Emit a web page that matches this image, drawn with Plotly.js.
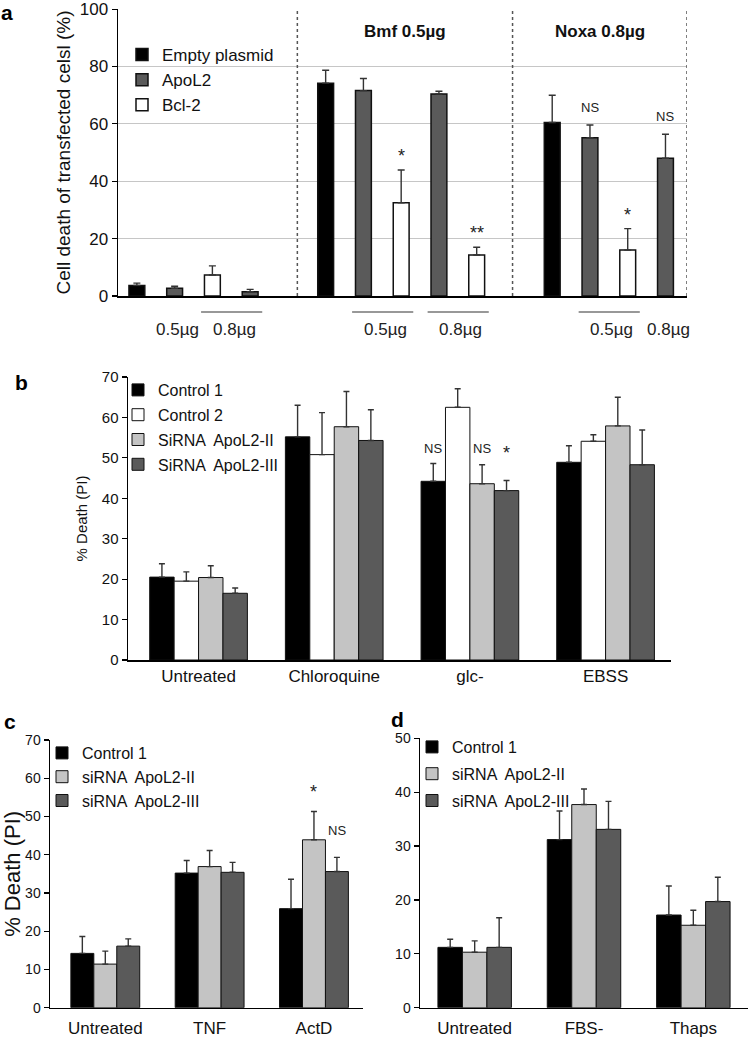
<!DOCTYPE html>
<html><head><meta charset="utf-8">
<script src="https://cdn.plot.ly/plotly-3.0.1.min.js"></script>
<style>html,body{margin:0;padding:0;background:#fff;}#chart{width:750px;height:1039px;}</style>
</head><body><div id="chart"></div>
<script>
// ---------- Panel a data ----------
const aSeries = ['Empty plasmid', 'ApoL2', 'Bcl-2'];
const aEmptySlots = [0.5, 5.5, 11.5];
const aEmptyVals = [3.7, 74.2, 60.5];
const aEmptyErr = [0.8, 4.5, 9.5];
const aApoSlots = [1.5, 3.5, 6.5, 8.5, 12.5, 14.5];
const aApoVals = [2.7, 1.5, 71.6, 70.4, 55.2, 48.0];
const aApoErr = [0.7, 0.8, 4.2, 1.0, 4.4, 8.4];
const aBclSlots = [2.5, 7.5, 9.5, 13.5];
const aBclVals = [7.3, 32.5, 14.3, 16.0];
const aBclErr = [3.2, 11.4, 2.7, 7.5];
const aSectionEdges = [4.75, 10.45, 15.07];
const aGroupTitles = ['Bmf 0.5µg', 'Noxa 0.8µg'];
const aDoseLabels = ['0.5µg', '0.8µg', '0.5µg', '0.8µg', '0.5µg', '0.8µg'];
const aDoseSlots = [[1.5], [2.5, 3.5], [6.5, 7.5], [8.5, 9.5], [12.5, 13.5], [14.5]];
const aMarkSeries = ['Bcl-2', 'Bcl-2', 'ApoL2', 'Bcl-2', 'ApoL2'];
const aMarkIndex = [1, 2, 4, 3, 5];
const aMarkText = ['*', '**', 'NS', '*', 'NS'];

// ---------- Panel b data ----------
const bCats = ['Untreated', 'Chloroquine', 'glc-', 'EBSS'];
const bSeries = ['Control 1', 'Control 2', 'SiRNA  ApoL2-II', 'SiRNA  ApoL2-III'];
const bControl1 = [20.5, 55.2, 44.2, 48.9];
const bControl1Err = [3.3, 7.8, 4.4, 4.1];
const bControl2 = [19.5, 50.8, 62.5, 54.1];
const bControl2Err = [2.3, 10.4, 4.6, 1.6];
const bSi2 = [20.4, 57.7, 43.6, 57.9];
const bSi2Err = [2.9, 8.7, 4.7, 7.1];
const bSi3 = [16.5, 54.3, 41.9, 48.3];
const bSi3Err = [1.3, 7.6, 2.5, 8.6];
const bMarkSeries = [0, 2, 3];
const bMarkCat = [2, 2, 2];
const bMarkText = ['NS', 'NS', '*'];
const bMarkLevel = 52.2;

// ---------- Panel c data ----------
const cCats = ['Untreated', 'TNF', 'ActD'];
const cSeries = ['Control 1', 'siRNA  ApoL2-II', 'siRNA  ApoL2-III'];
const cControl1 = [14.2, 35.2, 25.9];
const cControl1Err = [4.4, 3.3, 7.7];
const cSi2 = [11.4, 36.9, 43.9];
const cSi2Err = [3.4, 4.2, 7.4];
const cSi3 = [16.1, 35.4, 35.6];
const cSi3Err = [1.9, 2.6, 3.7];
const cMarkSeries = [1, 2];
const cMarkCat = [2, 2];
const cMarkText = ['*', 'NS'];

// ---------- Panel d data ----------
const dCats = ['Untreated', 'FBS-', 'Thaps'];
const dSeries = ['Control 1', 'siRNA  ApoL2-II', 'siRNA  ApoL2-III'];
const dControl1 = [11.2, 31.2, 17.2];
const dControl1Err = [1.5, 5.3, 5.4];
const dSi2 = [10.3, 37.7, 15.3];
const dSi2Err = [2.1, 2.9, 2.8];
const dSi3 = [11.2, 33.1, 19.7];
const dSi3Err = [5.5, 5.2, 4.5];

// ---------- styling ----------
const BLACK = '#000000', DARK = '#5a5a5a', LIGHT = '#c4c4c4', WHITE = '#ffffff';
const FONT = '"Liberation Sans", Arial, Helvetica, sans-serif';
const W = 750, H = 1039;
const px = v => v / W;
const py = v => 1 - v / H;

function barTrace(name, x, y, err, color, xa, ya, leg, offset, width, lineW, capW) {
  return {
    type: 'bar', name: name, x: x, y: y, xaxis: xa, yaxis: ya,
    legend: leg, legendgroup: leg + name,
    offset: offset, width: width,
    marker: {color: color, line: {color: '#111', width: lineW}},
    error_y: {type: 'data', symmetric: false, array: err, arrayminus: err.map(() => 0),
      color: '#333', thickness: 1.4, width: capW},
    hoverinfo: 'skip'
  };
}

const traces = [];
// panel a
traces.push(barTrace(aSeries[0], aEmptySlots, aEmptyVals, aEmptyErr, BLACK, 'x', 'y', 'legend', -0.21, 0.42, 1.5, 3.5));
traces.push(barTrace(aSeries[1], aApoSlots, aApoVals, aApoErr, DARK, 'x', 'y', 'legend', -0.21, 0.42, 1.5, 3.5));
traces.push(barTrace(aSeries[2], aBclSlots, aBclVals, aBclErr, WHITE, 'x', 'y', 'legend', -0.21, 0.42, 1.5, 3.5));
// panel b
const bVals = [bControl1, bControl2, bSi2, bSi3];
const bErrs = [bControl1Err, bControl2Err, bSi2Err, bSi3Err];
const bCols = [BLACK, WHITE, LIGHT, DARK];
const bW = 0.18;
bSeries.forEach((s, i) => traces.push(barTrace(s, bCats, bVals[i], bErrs[i], bCols[i], 'x2', 'y2', 'legend2', -2 * bW + i * bW, bW, 1, 3)));
// panel c
const cVals = [cControl1, cSi2, cSi3];
const cErrs = [cControl1Err, cSi2Err, cSi3Err];
const cCols = [BLACK, LIGHT, DARK];
const cW = 0.22;
cSeries.forEach((s, i) => traces.push(barTrace(s, cCats, cVals[i], cErrs[i], cCols[i], 'x3', 'y3', 'legend3', -1.5 * cW + i * cW, cW, 1, 3)));
// panel d
const dVals = [dControl1, dSi2, dSi3];
const dErrs = [dControl1Err, dSi2Err, dSi3Err];
const dCols = [BLACK, LIGHT, DARK];
const dW = 0.224;
dSeries.forEach((s, i) => traces.push(barTrace(s, dCats, dVals[i], dErrs[i], dCols[i], 'x4', 'y4', 'legend4', -1.5 * dW + i * dW, dW, 1, 3)));

// ---------- shapes & annotations ----------
const shapes = [];
const annotations = [];
// dotted section separators in panel a
aSectionEdges.forEach(e => shapes.push({type: 'line', xref: 'x', yref: 'y', x0: e, x1: e, y0: 0, y1: 100,
  line: {color: '#555', width: 1.5, dash: 'dot'}}));
// section titles
aGroupTitles.forEach((t, i) => annotations.push({xref: 'x', yref: 'y', x: (aSectionEdges[i] + aSectionEdges[i + 1]) / 2, y: 92.3,
  yanchor: 'middle', text: '<b>' + t + '</b>', showarrow: false, font: {family: FONT, size: 17, color: '#111'}}));
// dose labels and lines
aDoseLabels.forEach((t, i) => {
  const s = aDoseSlots[i];
  const mid = (s[0] + s[s.length - 1]) / 2;
  if (s.length > 1) {
    shapes.push({type: 'line', xref: 'x', yref: 'paper', x0: s[0] - 0.3, x1: s[s.length - 1] + 0.32,
      y0: py(312), y1: py(312), line: {color: '#333', width: 1.2}});
  }
  annotations.push({xref: 'x', yref: 'paper', x: mid, y: py(329), xshift: 3, yanchor: 'middle', text: t, showarrow: false,
    font: {family: FONT, size: 17, color: '#222'}});
});
// significance marks panel a
const aLookup = {'Empty plasmid': [aEmptySlots, aEmptyVals, aEmptyErr], 'ApoL2': [aApoSlots, aApoVals, aApoErr], 'Bcl-2': [aBclSlots, aBclVals, aBclErr]};
aMarkText.forEach((t, i) => {
  const d = aLookup[aMarkSeries[i]], k = aMarkIndex[i];
  const star = t.indexOf('*') >= 0;
  annotations.push({xref: 'x', yref: 'y', x: d[0][k], y: d[1][k] + d[2][k], yanchor: 'middle',
    yshift: star ? 14 : 18, text: t, showarrow: false,
    font: {family: FONT, size: star ? 18 : 13, color: '#222'}});
});
// panel b marks
bMarkText.forEach((t, i) => {
  const star = t === '*';
  annotations.push({xref: 'x2', yref: 'y2', x: bMarkCat[i] - 2 * bW + (bMarkSeries[i] + 0.5) * bW, y: bMarkLevel,
    yanchor: 'middle', yshift: star ? -4 : 0, text: t, showarrow: false,
    font: {family: FONT, size: star ? 18 : 13, color: '#222'}});
});
// panel c marks
cMarkText.forEach((t, i) => {
  const star = t === '*';
  const si = cMarkSeries[i], ci = cMarkCat[i];
  annotations.push({xref: 'x3', yref: 'y3', x: ci - 1.5 * cW + (si + 0.5) * cW, y: cVals[si][ci] + cErrs[si][ci],
    yanchor: 'middle', yshift: star ? 20 : 27, text: t, showarrow: false,
    font: {family: FONT, size: star ? 18 : 13, color: '#222'}});
});
// panel letters
[['a', 7, 13], ['b', 21, 382], ['c', 10, 721], ['d', 398, 719]].forEach(l => annotations.push({
  xref: 'paper', yref: 'paper', x: px(l[1]), y: py(l[2]), text: '<b>' + l[0] + '</b>', showarrow: false,
  xanchor: 'center', yanchor: 'middle', font: {family: FONT, size: 21, color: '#000'}}));

const axisBase = {showline: true, linecolor: '#000', linewidth: 1.5, zeroline: false, showgrid: false, fixedrange: true,
  tickfont: {family: FONT, size: 15, color: '#111'}};
const yBase = Object.assign({}, axisBase, {ticks: 'outside', ticklen: 5, tickwidth: 1.2, tickcolor: '#000'});
const xCat = Object.assign({}, axisBase, {type: 'category', ticks: 'outside', ticklen: 4, tickcolor: 'rgba(0,0,0,0)',
  tickfont: {family: FONT, size: 17, color: '#111'}});

const legendBase = {bgcolor: 'rgba(0,0,0,0)', borderwidth: 0, xanchor: 'left', yanchor: 'top', orientation: 'v'};

const layout = {
  width: W, height: H, margin: {l: 0, r: 0, t: 0, b: 0},
  paper_bgcolor: '#fff', plot_bgcolor: 'rgba(0,0,0,0)',
  barmode: 'overlay',
  font: {family: FONT, color: '#111'},
  xaxis: Object.assign({}, axisBase, {domain: [px(118), px(687)], range: [0, aSectionEdges[2]], showticklabels: false, ticks: '', anchor: 'y'}),
  yaxis: Object.assign({}, yBase, {domain: [py(296), py(9)], range: [0, 100.05], dtick: 20, anchor: 'x',
    showgrid: true, gridcolor: '#c6c6c6', gridwidth: 1, tickfont: {family: FONT, size: 17, color: '#111'},
    title: {text: 'Cell death of transfected celsl (%)', standoff: 4, font: {family: FONT, size: 19, color: '#111'}}}),
  xaxis2: Object.assign({}, xCat, {domain: [px(128), px(670.7)], range: [-0.52, 3.48], anchor: 'y2', ticklen: 0}),
  yaxis2: Object.assign({}, yBase, {domain: [py(660), py(377)], range: [0, 70], dtick: 10, anchor: 'x2',
    title: {text: '% Death (PI)', standoff: 10, font: {family: FONT, size: 15, color: '#111'}}}),
  xaxis3: Object.assign({}, xCat, {domain: [px(50), px(363)], range: [-0.53, 2.47], anchor: 'y3'}),
  yaxis3: Object.assign({}, yBase, {domain: [py(1007.7), py(740)], range: [0, 70], dtick: 10, anchor: 'x3',
    tickfont: {family: FONT, size: 14, color: '#111'},
    title: {text: '% Death (PI)', standoff: 6, font: {family: FONT, size: 22, color: '#111'}}}),
  xaxis4: Object.assign({}, xCat, {domain: [px(420), px(748)], range: [-0.5, 2.5], anchor: 'y4'}),
  yaxis4: Object.assign({}, yBase, {domain: [py(1007.7), py(738.3)], range: [0, 50], dtick: 10, anchor: 'x4',
    tickfont: {family: FONT, size: 14, color: '#111'}}),
  legend: Object.assign({}, legendBase, {x: px(122), y: py(37), tracegroupgap: 0, font: {family: FONT, size: 17, color: '#111'}}),
  legend2: Object.assign({}, legendBase, {x: px(118), y: py(373), tracegroupgap: 1, font: {family: FONT, size: 16, color: '#111'}}),
  legend3: Object.assign({}, legendBase, {x: px(42), y: py(736), tracegroupgap: 0, font: {family: FONT, size: 16, color: '#111'}}),
  legend4: Object.assign({}, legendBase, {x: px(412), y: py(730), tracegroupgap: 3, font: {family: FONT, size: 16, color: '#111'}}),
  shapes: shapes,
  annotations: annotations
};

Plotly.newPlot('chart', traces, layout, {staticPlot: true, displayModeBar: false});
</script>
</body></html>
